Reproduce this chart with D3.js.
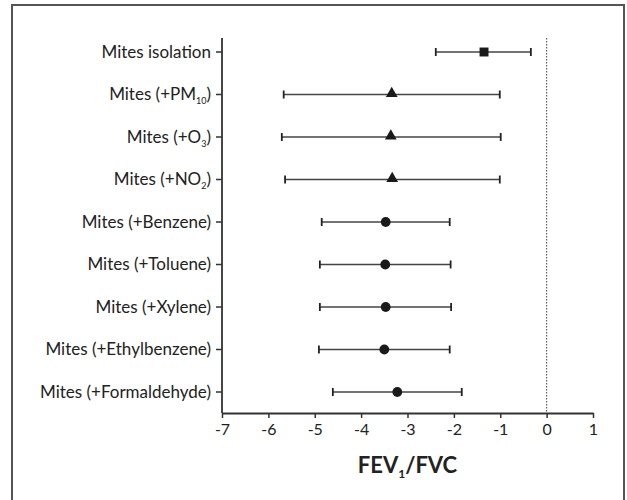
<!DOCTYPE html>
<html>
<head>
<meta charset="utf-8">
<script src="https://cdn.jsdelivr.net/npm/d3@7"></script>
<style>
  body { margin: 0; background: #fff; }
  svg text { font-family: Lato, "Open Sans", sans-serif; fill: #222; }
</style>
</head>
<body>
<div id="chart"></div>
<script>
// labels: [main text, subscript, closing text]
const labels = [
    ['Mites isolation', '', ''],
    ['Mites (+PM', '10', ')'],
    ['Mites (+O', '3', ')'],
    ['Mites (+NO', '2', ')'],
    ['Mites (+Benzene)', '', ''],
    ['Mites (+Toluene)', '', ''],
    ['Mites (+Xylene)', '', ''],
    ['Mites (+Ethylbenzene)', '', ''],
    ['Mites (+Formaldehyde)', '', '']
];
const estimate = [-1.35, -3.34, -3.36, -3.33, -3.47, -3.48, -3.47, -3.50, -3.22];
const lower = [-2.39, -5.67, -5.71, -5.64, -4.85, -4.89, -4.89, -4.91, -4.61];
const upper = [-0.34, -1.01, -0.99, -1.01, -2.09, -2.07, -2.06, -2.09, -1.83];
const markers = ['square', 'triangle', 'triangle', 'triangle', 'circle', 'circle', 'circle', 'circle', 'circle'];
const xTicks = [-7, -6, -5, -4, -3, -2, -1, 0, 1];

const width = 627, height = 500;
const plotLeft = 222, plotRight = 593, plotTop = 38, plotBottom = 413;

const svg = d3.select('#chart').append('svg')
    .attr('width', width)
    .attr('height', height);

// cadre
svg.append('path')
    .attr('d', `M12,${height + 2}V5H624V${height + 2}`)
    .attr('fill', 'none')
    .attr('stroke', '#555')
    .attr('stroke-width', 2);

const rows = labels.map((d, i) => ({
    label: d, est: estimate[i], lo: lower[i], hi: upper[i], marker: markers[i], i
}));

const x = d3.scaleLinear().domain([-7, 1]).range([plotLeft, plotRight]);
const y = d3.scalePoint().domain(d3.range(labels.length)).range([52, 392]);

// ligne de référence à 0
svg.append('line')
    .attr('x1', x(0)).attr('x2', x(0))
    .attr('y1', plotTop).attr('y2', plotBottom)
    .attr('stroke', '#444')
    .attr('stroke-width', 1)
    .attr('stroke-dasharray', '1.5,1.5');

// axe X
const xAxis = svg.append('g')
    .attr('transform', `translate(0,${plotBottom})`)
    .call(d3.axisBottom(x).tickValues(xTicks).tickSize(5).tickSizeOuter(0).tickPadding(6)
        .tickFormat(d => String(d)));
xAxis.select('.domain').attr('stroke', '#333').attr('stroke-width', 1.8);
xAxis.selectAll('.tick line').attr('stroke', '#333').attr('stroke-width', 1.5);
xAxis.selectAll('.tick text').attr('font-size', 16).style('font-family', 'Lato, sans-serif').attr('fill', '#222');

// axe Y
svg.append('line')
    .attr('x1', plotLeft).attr('x2', plotLeft)
    .attr('y1', plotTop).attr('y2', plotBottom)
    .attr('stroke', '#333')
    .attr('stroke-width', 1.8);

const yTick = svg.append('g').selectAll('g')
    .data(rows)
    .join('g')
    .attr('transform', d => `translate(${plotLeft},${y(d.i)})`);

yTick.append('line')
    .attr('x1', -6).attr('x2', 0)
    .attr('stroke', '#333')
    .attr('stroke-width', 1.5);

const yText = yTick.append('text')
    .attr('x', -11)
    .attr('dy', '0.35em')
    .attr('text-anchor', 'end')
    .attr('font-size', 17);
yText.append('tspan').text(d => d.label[0]);
yText.filter(d => d.label[1]).append('tspan')
    .attr('font-size', 9)
    .attr('dy', 4)
    .text(d => d.label[1]);
yText.filter(d => d.label[2]).append('tspan')
    .attr('dy', -4)
    .text(d => d.label[2]);

// intervalles de confiance
const ci = svg.append('g').selectAll('g')
    .data(rows)
    .join('g')
    .attr('transform', d => `translate(0,${y(d.i)})`);

ci.append('line')
    .attr('x1', d => x(d.lo)).attr('x2', d => x(d.hi))
    .attr('stroke', '#444')
    .attr('stroke-width', 1.6);

ci.append('line')
    .attr('x1', d => x(d.lo)).attr('x2', d => x(d.lo))
    .attr('y1', -4).attr('y2', 4)
    .attr('stroke', '#222').attr('stroke-width', 1.8);

ci.append('line')
    .attr('x1', d => x(d.hi)).attr('x2', d => x(d.hi))
    .attr('y1', -4).attr('y2', 4)
    .attr('stroke', '#222').attr('stroke-width', 1.8);

const symbolType = { square: d3.symbolSquare, triangle: d3.symbolTriangle, circle: d3.symbolCircle };
const symbolSize = { square: 80, triangle: 60, circle: 75 };

ci.append('path')
    .attr('transform', d => `translate(${x(d.est)},${d.marker === 'triangle' ? -1 : 0})`)
    .attr('d', d => d3.symbol().type(symbolType[d.marker]).size(symbolSize[d.marker])())
    .attr('fill', '#1a1a1a');

// titre de l'axe
const title = svg.append('text')
    .attr('x', (plotLeft + plotRight) / 2)
    .attr('y', 473)
    .attr('text-anchor', 'middle')
    .attr('font-size', 22)
    .attr('font-weight', 'bold');
title.append('tspan').text('FEV');
title.append('tspan').attr('font-size', 12).attr('dy', 5).text('1');
title.append('tspan').attr('dy', -5).text('/FVC');
</script>
</body>
</html>
